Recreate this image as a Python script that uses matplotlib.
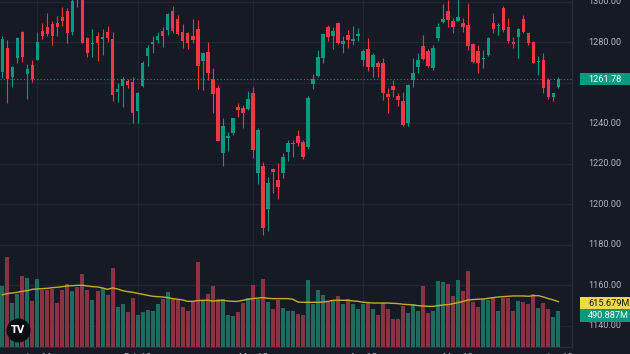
import numpy as np
import matplotlib
matplotlib.use("Agg")
import matplotlib.pyplot as plt
import matplotlib.transforms as mtransforms
from matplotlib.patches import Rectangle

# ---------------- data ----------------
opens = [1265.4, 1277.0, 1263.0, 1272.1, 1284.9, 1264.3, 1268.8, 1271.2, 1285.5, 1287.4,
         1289.0, 1289.3, 1292.6, 1295.4, 1284.9, 1306.0, 1303.5, 1282.2, 1279.1, 1283.1,
         1281.4, 1284.9, 1281.4, 1255.6, 1258.4, 1260.9, 1260.5, 1246.2, 1258.4, 1273.2,
         1279.0, 1281.1, 1285.5, 1286.0, 1295.6, 1291.3, 1284.9, 1284.4, 1283.1, 1286.4,
         1270.7, 1275.3, 1261.7, 1257.3, 1225.2, 1232.9, 1235.0, 1248.2, 1247.5, 1246.9,
         1254.8, 1215.6, 1219.0, 1197.5, 1217.4, 1212.0, 1215.3, 1226.0, 1229.8, 1233.7,
         1230.9, 1228.1, 1259.4, 1263.3, 1272.1, 1287.4, 1283.1, 1289.3, 1279.1, 1283.6,
         1280.8, 1283.2, 1271.2, 1276.5, 1267.9, 1269.9, 1269.9, 1254.3, 1258.4, 1253.5,
         1251.0, 1240.0, 1261.4, 1267.9, 1278.1, 1275.8, 1267.4, 1281.9, 1289.8, 1295.4,
         1290.5, 1290.5, 1289.6, 1288.5, 1279.1, 1275.7, 1271.7, 1273.7, 1289.6, 1288.0,
         1297.0, 1287.7, 1280.0, 1282.7, 1291.3, 1284.4, 1280.3, 1270.1, 1271.2, 1261.4,
         1252.8, 1257.7]
closes = [1281.4, 1261.7, 1267.9, 1281.9, 1272.6, 1266.6, 1261.7, 1280.3, 1283.2, 1283.9,
          1283.2, 1287.7, 1290.6, 1284.4, 1300.3, 1302.5, 1279.8, 1274.8, 1279.8, 1279.8,
          1282.7, 1281.9, 1253.9, 1256.8, 1261.7, 1258.9, 1245.2, 1254.8, 1269.9, 1277.0,
          1280.0, 1283.2, 1283.2, 1293.9, 1285.7, 1283.9, 1280.8, 1279.5, 1281.1, 1268.4,
          1274.8, 1264.7, 1254.4, 1231.4, 1238.6, 1233.4, 1242.4, 1246.5, 1245.1, 1251.8,
          1226.8, 1236.7, 1188.1, 1210.7, 1215.8, 1208.4, 1223.5, 1230.4, 1230.4, 1230.1,
          1223.2, 1252.6, 1261.8, 1272.9, 1284.1, 1282.4, 1285.5, 1279.8, 1280.8, 1281.1,
          1281.4, 1284.1, 1275.8, 1267.9, 1273.7, 1267.6, 1255.1, 1252.8, 1256.4, 1251.5,
          1239.1, 1258.9, 1265.0, 1271.2, 1271.6, 1268.3, 1277.3, 1287.7, 1291.5, 1291.0,
          1287.7, 1292.3, 1287.7, 1278.1, 1270.4, 1269.9, 1272.4, 1282.2, 1286.4, 1288.5,
          1286.0, 1280.8, 1279.1, 1286.4, 1285.2, 1279.8, 1269.9, 1270.7, 1257.3, 1252.8,
          1254.8, 1261.78]
highs = [1283.1, 1281.1, 1268.2, 1282.5, 1285.7, 1269.2, 1271.2, 1284.9, 1289.3, 1294.3,
         1290.6, 1292.9, 1297.5, 1296.7, 1301.5, 1307.0, 1305.0, 1282.4, 1286.5, 1284.9,
         1286.5, 1288.2, 1284.9, 1259.7, 1262.7, 1261.8, 1262.7, 1255.5, 1270.9, 1278.6,
         1283.2, 1284.9, 1287.4, 1294.3, 1297.9, 1293.4, 1289.0, 1284.9, 1291.5, 1291.0,
         1275.0, 1280.0, 1267.4, 1258.9, 1242.4, 1235.8, 1242.6, 1250.0, 1249.0, 1256.1,
         1258.0, 1237.6, 1221.0, 1213.3, 1217.8, 1220.2, 1225.2, 1231.7, 1231.7, 1236.7,
         1231.7, 1253.5, 1264.3, 1276.2, 1284.4, 1288.5, 1287.4, 1289.8, 1283.1, 1286.0,
         1288.2, 1287.2, 1276.5, 1282.2, 1274.5, 1270.7, 1272.1, 1257.3, 1261.4, 1255.1,
         1255.6, 1259.2, 1272.1, 1274.5, 1283.6, 1276.5, 1278.6, 1289.3, 1298.9, 1301.0,
         1291.8, 1302.0, 1291.8, 1299.5, 1279.5, 1278.6, 1276.2, 1282.7, 1294.3, 1289.6,
         1297.9, 1291.8, 1282.7, 1286.9, 1293.4, 1284.7, 1280.6, 1273.2, 1274.5, 1262.2,
         1255.1, 1262.7]
lows = [1262.2, 1250.1, 1257.7, 1269.6, 1270.4, 1251.8, 1260.5, 1271.0, 1281.4, 1283.2,
        1278.6, 1283.2, 1288.0, 1279.5, 1283.6, 1297.5, 1279.6, 1272.9, 1272.9, 1270.9,
        1273.7, 1280.0, 1251.1, 1250.6, 1247.9, 1257.4, 1240.1, 1240.1, 1258.0, 1268.3,
        1274.5, 1279.5, 1277.8, 1283.6, 1284.4, 1283.6, 1277.3, 1276.5, 1279.5, 1256.8,
        1256.4, 1261.4, 1244.9, 1231.0, 1218.9, 1226.5, 1234.2, 1243.2, 1237.5, 1246.5,
        1222.7, 1209.9, 1184.8, 1187.0, 1205.4, 1202.6, 1212.8, 1221.4, 1223.5, 1228.9,
        1222.2, 1227.5, 1256.8, 1263.0, 1269.6, 1280.8, 1276.5, 1279.1, 1274.8, 1277.0,
        1278.6, 1280.8, 1268.4, 1265.9, 1263.0, 1263.0, 1251.5, 1245.2, 1253.1, 1248.5,
        1238.6, 1238.6, 1258.0, 1265.0, 1271.2, 1267.9, 1266.3, 1280.8, 1289.3, 1287.7,
        1284.4, 1290.4, 1285.2, 1276.2, 1269.6, 1265.0, 1267.4, 1273.2, 1284.4, 1283.6,
        1285.2, 1279.5, 1277.3, 1272.1, 1284.4, 1278.6, 1269.6, 1263.8, 1254.8, 1251.8,
        1251.0, 1257.2]
# volume in millions
volumes = [825, 1224, 598, 726, 961, 944, 621, 921, 781, 781,
           794, 604, 771, 853, 758, 816, 998, 771, 635, 758,
           802, 703, 1080, 544, 581, 476, 666, 441, 476, 499,
           486, 581, 658, 748, 672, 635, 544, 486, 612, 1156,
           645, 717, 825, 658, 649, 431, 418, 476, 598, 672,
           839, 649, 930, 612, 513, 635, 536, 490, 490, 445,
           435, 907, 590, 771, 703, 621, 621, 690, 581, 653,
           581, 513, 590, 598, 513, 441, 604, 522, 386, 386,
           553, 462, 590, 486, 830, 462, 486, 894, 884, 862,
           690, 917, 758, 1030, 612, 544, 649, 645, 666, 486,
           672, 666, 490, 621, 612, 590, 717, 530, 598, 522,
           408, 490.887]
vol_ma = [710, 726, 735, 744, 758, 766, 785, 789, 794, 798,
          807, 812, 821, 830, 834, 839, 839, 830, 821, 816,
          803, 785, 803, 789, 766, 753, 744, 730, 717, 703,
          690, 685, 680, 672, 658, 649, 640, 621, 621, 630,
          635, 635, 626, 630, 635, 626, 621, 621, 635, 649,
          658, 666, 672, 662, 658, 658, 658, 658, 649, 612,
          608, 608, 608, 608, 612, 621, 635, 635, 635, 635,
          626, 621, 608, 604, 598, 598, 598, 598, 594, 590,
          581, 577, 572, 563, 558, 553, 553, 563, 572, 577,
          590, 604, 621, 640, 645, 649, 653, 662, 672, 680,
          685, 690, 694, 694, 694, 690, 698, 698, 680, 658,
          640, 615.679]

price_ticks = [1140, 1160, 1180, 1200, 1220, 1240, 1260, 1280, 1300]
date_idx = [7, 27, 50, 72, 91, 111]
date_labels = ["Jan 16", "Feb 13", "Mar 15", "Apr 15", "May 13", "Jun 12"]

# ---------------- style ----------------
BG = "#161a25"
GRID = "#232632"
UP = "#089981"
DOWN = "#f23645"
VUP = "#1e6b5f"
VDOWN = "#8b3342"
MA = "#c2ad2a"
TXT = "#b2b5be"
FONT = ["Roboto", "DejaVu Sans"]

W, H = 630, 354
fig = plt.figure(figsize=(W / 100, H / 100), dpi=100, facecolor=BG)
ax = fig.add_axes([0, 7 / H, 572 / W, 347 / H])
ax.set_facecolor(BG)

n = len(closes)
x = np.arange(n)
o = np.array(opens)
c = np.array(closes)
up = c >= o
cols = np.where(up, UP, DOWN)

ax.set_xlim(-0.46, 113.7)
ax.set_ylim(1129.6, 1300.8)

# grid
for p in price_ticks:
    ax.axhline(p, color=GRID, lw=0.9, zorder=0)
for i in date_idx[:-1]:
    ax.axvline(i, color=GRID, lw=0.9, zorder=0)

# candles
ax.vlines(x, lows, highs, colors=cols, lw=0.8, zorder=2)
bottoms = np.minimum(o, c)
heights = np.maximum(np.abs(c - o), 0.6)
ax.bar(x, heights, bottom=bottoms, width=0.72, color=cols, linewidth=0, zorder=3)

# last price dotted line
ax.axhline(closes[-1], color=UP, lw=0.8, linestyle=(0, (1, 2)), zorder=1)

# volume pane
ax2 = ax.twinx()
ax2.set_ylim(0, 347 * 13.6)
ax2.bar(x, volumes, width=0.8, color=np.where(up, VUP, VDOWN), linewidth=0, zorder=1)
ax2.plot(x, vol_ma, color=MA, lw=1.0, zorder=2)

for a in (ax, ax2):
    a.set_xticks([])
    a.set_yticks([])
    for s in a.spines.values():
        s.set_visible(False)
ax.spines["right"].set_visible(True)
ax.spines["right"].set_color("#2a2e39")
ax.spines["bottom"].set_visible(True)
ax.spines["bottom"].set_color("#2a2e39")

# price axis labels (the one under the last-price tag is hidden, as in the app)
trans = mtransforms.blended_transform_factory(ax.transAxes, ax.transData)
for p in price_ticks:
    if abs(p - closes[-1]) < 4:
        continue
    ax.text(588 / 572, p, f"{p:.2f}", transform=trans, ha="left", va="center",
            color=TXT, fontsize=6.6, family=FONT, clip_on=False)

# time axis labels (cut off by the bottom edge)
tx = mtransforms.blended_transform_factory(ax.transData, ax.transAxes)
for i, lab in zip(date_idx, date_labels):
    ax.text(i, -6 / 347, lab, transform=tx, ha="center", va="top",
            color=TXT, fontsize=6.6, family=FONT, clip_on=False)


def value_label(axis, value, text, fc, tc, dy_px=0.0):
    yd = axis.transData.transform((0, value))[1] - dy_px
    yf = yd / H
    h = 12.7 / H
    fig.patches.append(Rectangle((580 / W, yf - h / 2), 52 / W, h,
                                 transform=fig.transFigure, facecolor=fc,
                                 edgecolor="none", zorder=5))
    fig.text(588 / W, yf, text, color=tc, ha="left", va="center",
             fontsize=6.6, family=FONT, zorder=6)


value_label(ax, closes[-1], f"{closes[-1]:.2f}", UP, "white")
value_label(ax2, vol_ma[-1], f"{vol_ma[-1]:.3f}M", "#f0d84a", "#131722", 1.4)
value_label(ax2, volumes[-1], f"{volumes[-1]:.3f}M", UP, "white", 4.4)

# TradingView logo (on the top axes so the volume bars don't cover it)
ax2.scatter([18 / 572], [(347 - 330) / 347], s=300, color="#0b0d12",
            transform=ax2.transAxes, zorder=10, clip_on=False, linewidths=0)
ax2.text(18 / 572, (347 - 330) / 347, "TV", transform=ax2.transAxes, color="white",
         fontsize=7, fontweight="bold", ha="center", va="center", zorder=11)

fig.savefig("out.png", dpi=100, facecolor=BG)
